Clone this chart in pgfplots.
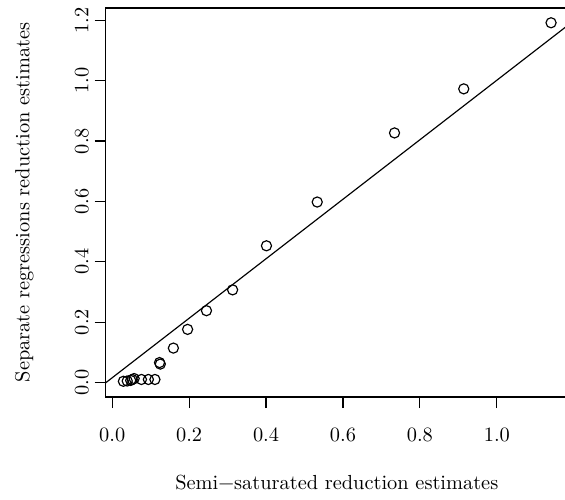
\documentclass[border=0pt]{standalone}
\usepackage{fontspec}
\setmainfont{Latin Modern Roman}
\usepackage{pgfplots}
\pgfplotsset{compat=1.18}

\begin{document}
\begin{tikzpicture}[font=\fontsize{10.45}{12.5}\selectfont]
  % page frame: 565 x 500 px, 1 px = 0.513 pt
  \useasboundingbox (0,0) rectangle (289.85pt,256.5pt);
  \begin{axis}[
    at={(54.22pt,52.84pt)}, anchor=south west,
    scale only axis, width=237.16pt, height=199.56pt,
    xmin=-0.017, xmax=1.185, ymin=-0.048, ymax=1.241,
    axis line style={line width=0.6pt},
    tick align=outside, tick style={line width=0.6pt, black},
    major tick length=5.7pt,
    xtick={0,0.2,...,1.0}, ytick={0,0.2,...,1.2},
    xtick pos=bottom, ytick pos=left,
    /pgf/number format/fixed,
    /pgf/number format/fixed zerofill,
    /pgf/number format/precision=1,
    /pgf/number format/assume math mode=true,
    tick label style={font=\fontsize{10.45}{12.5}\selectfont},
    label style={font=\fontsize{10.45}{12.5}\selectfont},
    xticklabel style={anchor=north, inner sep=0pt},
    yticklabel style={rotate=90, anchor=base, inner sep=0pt},
    xticklabel shift=10pt, yticklabel shift=3.2pt,
    xlabel={Semi−saturated reduction estimates},
    ylabel={Separate regressions reduction estimates},
    xlabel style={at={(axis description cs:0.5,-0.239)}, anchor=base, inner sep=0pt},
    ylabel style={at={(axis description cs:-0.165,0.5)}, anchor=base, inner sep=0pt},
    clip=true,
  ]
    \addplot[only marks, mark=o, mark size=2.6pt, mark options={line width=0.6pt}, black]
      coordinates {
        (1.141,1.192) (0.914,0.973) (0.734,0.827) (0.533,0.598)
        (0.401,0.453) (0.313,0.307) (0.245,0.238) (0.196,0.176)
        (0.159,0.114) (0.123,0.066) (0.125,0.061)
        (0.111,0.010) (0.094,0.010) (0.076,0.010)
        (0.057,0.013) (0.052,0.010) (0.048,0.007)
        (0.039,0.005) (0.029,0.004)
      };
    % fitted line
    \addplot[black, line width=0.6pt] coordinates {(-0.05,-0.0335) (1.25,1.248)};
  \end{axis}
\end{tikzpicture}
\end{document}
